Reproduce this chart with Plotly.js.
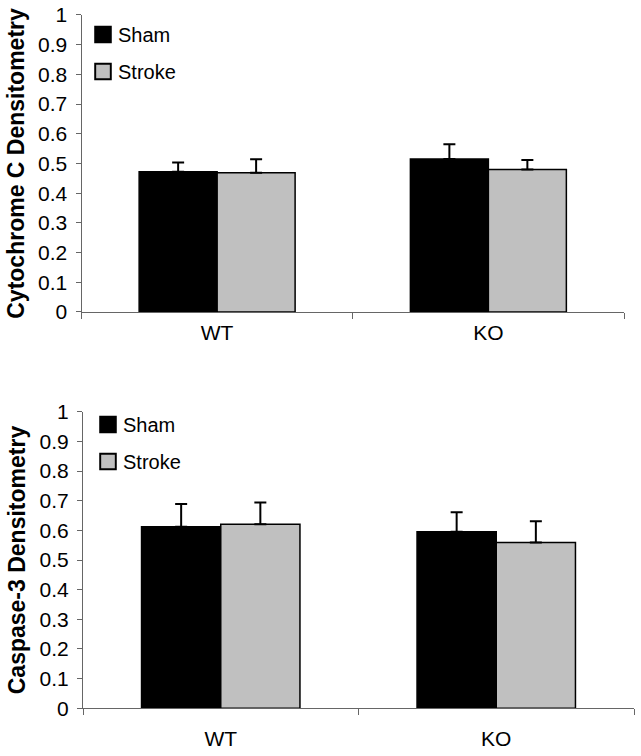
<!DOCTYPE html>
<html>
<head>
<meta charset="utf-8">
<script src="https://cdn.plot.ly/plotly-3.0.1.min.js"></script>
<style>html,body{margin:0;padding:0;background:#fff;}#chart{width:641px;height:756px;}</style>
</head>
<body>
<div id="chart"></div>
<script>
var groups = ['WT', 'KO'];
var seriesNames = ['Sham', 'Stroke'];
var cytoSham = [0.472, 0.515];
var cytoShamErr = [0.031, 0.050];
var cytoStroke = [0.469, 0.480];
var cytoStrokeErr = [0.045, 0.032];
var caspSham = [0.612, 0.595];
var caspShamErr = [0.077, 0.066];
var caspStroke = [0.621, 0.559];
var caspStrokeErr = [0.073, 0.072];
var yTickVals = [0, 0.1, 0.2, 0.3, 0.4, 0.5, 0.6, 0.7, 0.8, 0.9, 1];
var yTickText = ['0', '0.1', '0.2', '0.3', '0.4', '0.5', '0.6', '0.7', '0.8', '0.9', '1'];

var FONT = 'Arial, "Liberation Sans", sans-serif';
var colors = ['#000000', '#c0c0c0'];

function zeros(a) { return a.map(function () { return 0; }); }
function barTrace(name, vals, errs, ci, xa, ya, leg) {
  return {
    type: 'bar', name: name, x: groups, y: vals,
    xaxis: xa, yaxis: ya, legend: leg, legendgroup: leg + name,
    marker: { color: colors[ci], line: { color: '#000', width: 1.5 } },
    error_y: { type: 'data', symmetric: false, array: errs, arrayminus: zeros(errs),
               color: '#000', thickness: 2, width: 6 },
    hoverinfo: 'none'
  };
}

var data = [
  barTrace(seriesNames[0], cytoSham, cytoShamErr, 0, 'x', 'y', 'legend'),
  barTrace(seriesNames[1], cytoStroke, cytoStrokeErr, 1, 'x', 'y', 'legend'),
  barTrace(seriesNames[0], caspSham, caspShamErr, 0, 'x2', 'y2', 'legend2'),
  barTrace(seriesNames[1], caspStroke, caspStrokeErr, 1, 'x2', 'y2', 'legend2')
];

function xAxis(domain, anchor, standoff) {
  return {
    domain: domain, anchor: anchor, type: 'category',
    showline: true, linecolor: '#666', linewidth: 1,
    ticks: 'outside', tickson: 'boundaries', ticklen: 6, tickcolor: '#666', tickwidth: 1,
    ticklabelstandoff: standoff,
    tickfont: { family: FONT, size: 21, color: '#000' },
    showgrid: false, zeroline: false, fixedrange: true
  };
}
function yAxis(domain, anchor, title) {
  return {
    domain: domain, anchor: anchor, range: [0, 1],
    tickvals: yTickVals, ticktext: yTickText,
    showline: true, linecolor: '#666', linewidth: 1,
    ticks: 'outside', ticklen: 5, tickcolor: '#666', tickwidth: 1,
    ticklabelstandoff: 4,
    tickfont: { family: FONT, size: 21, color: '#000' },
    showgrid: false, zeroline: false, fixedrange: true,
    title: { text: title, font: { family: FONT, size: 23, color: '#000', weight: 'bold' }, standoff: 7 }
  };
}

var layout = {
  width: 641, height: 756,
  margin: { l: 0, r: 0, t: 0, b: 0 },
  paper_bgcolor: '#fff', plot_bgcolor: '#fff',
  barmode: 'group', bargap: 0.425, bargroupgap: 0,
  showlegend: true,
  xaxis: xAxis([81.5 / 641, 624 / 641], 'y', 2),
  yaxis: yAxis([0.5873, 0.9802], 'x', 'Cytochrome C Densitometry'),
  xaxis2: xAxis([83 / 641, 634 / 641], 'y2', 12),
  yaxis2: yAxis([0.0631, 0.4553], 'x2', 'Caspase-3 Densitometry'),
  legend: { x: 78 / 641, xanchor: 'left', y: (756 - 15) / 756, yanchor: 'top',
            bgcolor: 'rgba(0,0,0,0)', traceorder: 'grouped', tracegroupgap: 8,
            font: { family: FONT, size: 20, color: '#000' } },
  legend2: { x: 83 / 641, xanchor: 'left', y: (756 - 405) / 756, yanchor: 'top',
             bgcolor: 'rgba(0,0,0,0)', traceorder: 'grouped', tracegroupgap: 8,
             font: { family: FONT, size: 20, color: '#000' } }
};

Plotly.newPlot('chart', data, layout, { displayModeBar: false, staticPlot: true }).then(function (gd) {
  // enlarge legend swatches to match the reference's larger squares
  var pts = gd.querySelectorAll('.legendpoints path');
  pts.forEach(function (p) {
    p.setAttribute('transform', 'translate(25,0) scale(1.3)');
  });
});
</script>
</body>
</html>
